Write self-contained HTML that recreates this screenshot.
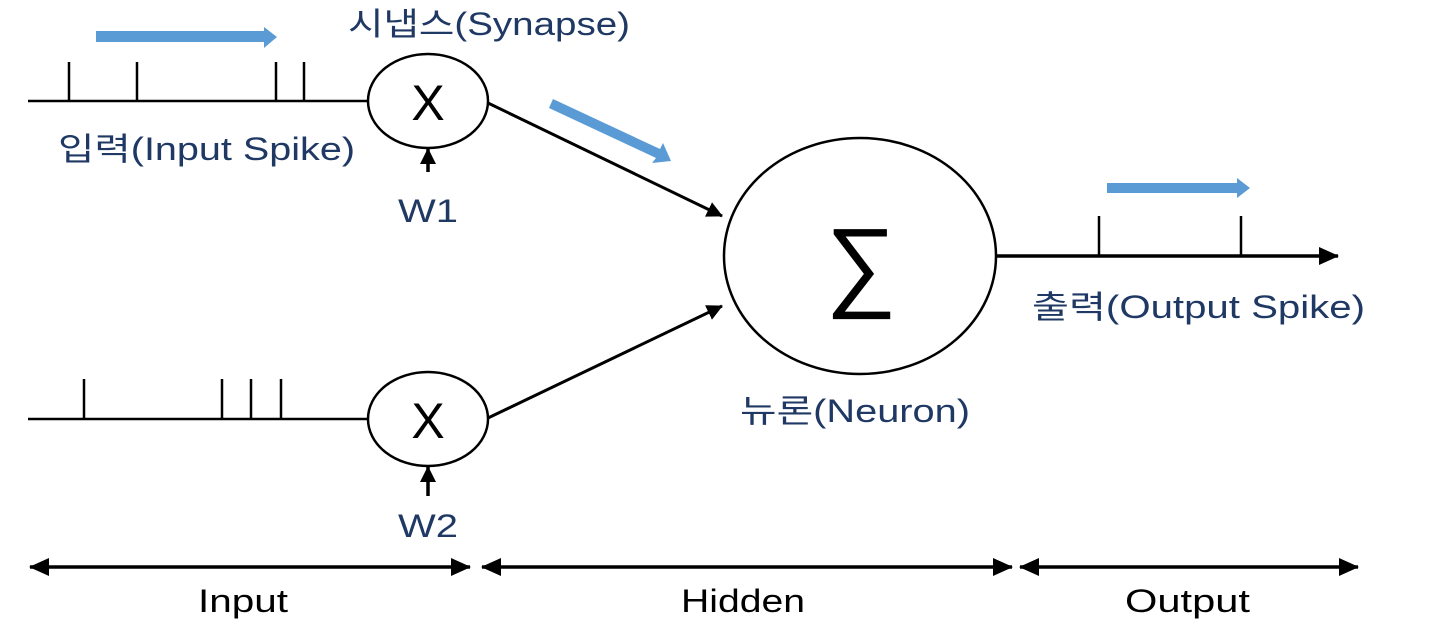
<!DOCTYPE html>
<html><head><meta charset="utf-8"><style>
html,body{margin:0;padding:0;background:#fff;}
svg{display:block}
text{font-family:"Liberation Sans","Noto Sans CJK KR",sans-serif;}
</style></head><body>
<svg width="1450" height="639" viewBox="0 0 1450 639" xmlns="http://www.w3.org/2000/svg">
<defs>
<marker id="ahb" markerWidth="20" markerHeight="18" refX="19" refY="9" orient="auto-start-reverse" markerUnits="userSpaceOnUse" viewBox="0 0 20 18"><path d="M0,0 L20,9 L0,18 z" fill="#000"/></marker>
<marker id="ahs" markerWidth="16" markerHeight="16" refX="15" refY="8" orient="auto" markerUnits="userSpaceOnUse" viewBox="0 0 16 16"><path d="M0,0 L16,8 L0,16 z" fill="#000"/></marker>
</defs>
<g stroke="#000" stroke-width="2.5" fill="none">
<line x1="28" y1="101" x2="368" y2="101"/>
<line x1="69" y1="62" x2="69" y2="101"/><line x1="137" y1="62" x2="137" y2="101"/>
<line x1="276" y1="62" x2="276" y2="101"/><line x1="304" y1="62" x2="304" y2="101"/>
<ellipse cx="428" cy="101" rx="60" ry="47"/>
<line x1="28" y1="419" x2="368" y2="419"/>
<line x1="84" y1="379" x2="84" y2="419"/><line x1="222" y1="379" x2="222" y2="419"/>
<line x1="251" y1="379" x2="251" y2="419"/><line x1="281" y1="379" x2="281" y2="419"/>
<ellipse cx="428" cy="419" rx="60" ry="47"/>
<ellipse cx="860" cy="256" rx="136" ry="118"/>
<line x1="488" y1="103" x2="722" y2="216" stroke-width="3" marker-end="url(#ahs)"/>
<line x1="488" y1="418" x2="722" y2="306" stroke-width="3" marker-end="url(#ahs)"/>
<line x1="428" y1="172" x2="428" y2="149" stroke-width="3.5" marker-end="url(#ahs)"/>
<line x1="428" y1="496" x2="428" y2="467" stroke-width="3.5" marker-end="url(#ahs)"/>
<line x1="996" y1="256" x2="1338" y2="256" stroke-width="3.5" marker-end="url(#ahb)"/>
<line x1="1099" y1="216" x2="1099" y2="256"/><line x1="1241" y1="216" x2="1241" y2="256"/>
<line x1="30" y1="567" x2="470" y2="567" stroke-width="3.5" marker-start="url(#ahb)" marker-end="url(#ahb)"/>
<line x1="482" y1="567" x2="1012" y2="567" stroke-width="3.5" marker-start="url(#ahb)" marker-end="url(#ahb)"/>
<line x1="1020" y1="567" x2="1358" y2="567" stroke-width="3.5" marker-start="url(#ahb)" marker-end="url(#ahb)"/>
</g>
<g fill="#5b9bd5">
<path d="M96,31 L264,31 L264,27 L277,37 L264,48 L264,42 L96,42 z"/>
<path d="M1107,183 L1237,183 L1237,178 L1250,188 L1237,198 L1237,193 L1107,193 z"/>
<path d="M553,99 L660,149 L663,143 L671,161 L652,163 L656,158 L549,108 z"/>
</g>
<g font-size="50" text-anchor="middle" fill="#000">
<text x="428" y="120">X</text>
<text x="428" y="438">X</text>
<text x="861" y="298" font-size="100" font-family="DejaVu Sans, sans-serif">∑</text>
</g>
<g fill="#1f3864" font-size="32">
<text x="348" y="35" textLength="282" lengthAdjust="spacingAndGlyphs">시냅스(Synapse)</text>
<text x="58" y="160" textLength="297" lengthAdjust="spacingAndGlyphs">입력(Input Spike)</text>
<text x="398" y="222" textLength="60" lengthAdjust="spacingAndGlyphs">W1</text>
<text x="398" y="537" textLength="60" lengthAdjust="spacingAndGlyphs">W2</text>
<text x="1032" y="318" textLength="333" lengthAdjust="spacingAndGlyphs">출력(Output Spike)</text>
<text x="740" y="422" textLength="230" lengthAdjust="spacingAndGlyphs">뉴론(Neuron)</text>
</g>
<g fill="#000" font-size="32">
<text x="198" y="612" textLength="90" lengthAdjust="spacingAndGlyphs">Input</text>
<text x="681" y="612" textLength="124" lengthAdjust="spacingAndGlyphs">Hidden</text>
<text x="1125" y="612" textLength="125" lengthAdjust="spacingAndGlyphs">Output</text>
</g>
</svg>
</body></html>
